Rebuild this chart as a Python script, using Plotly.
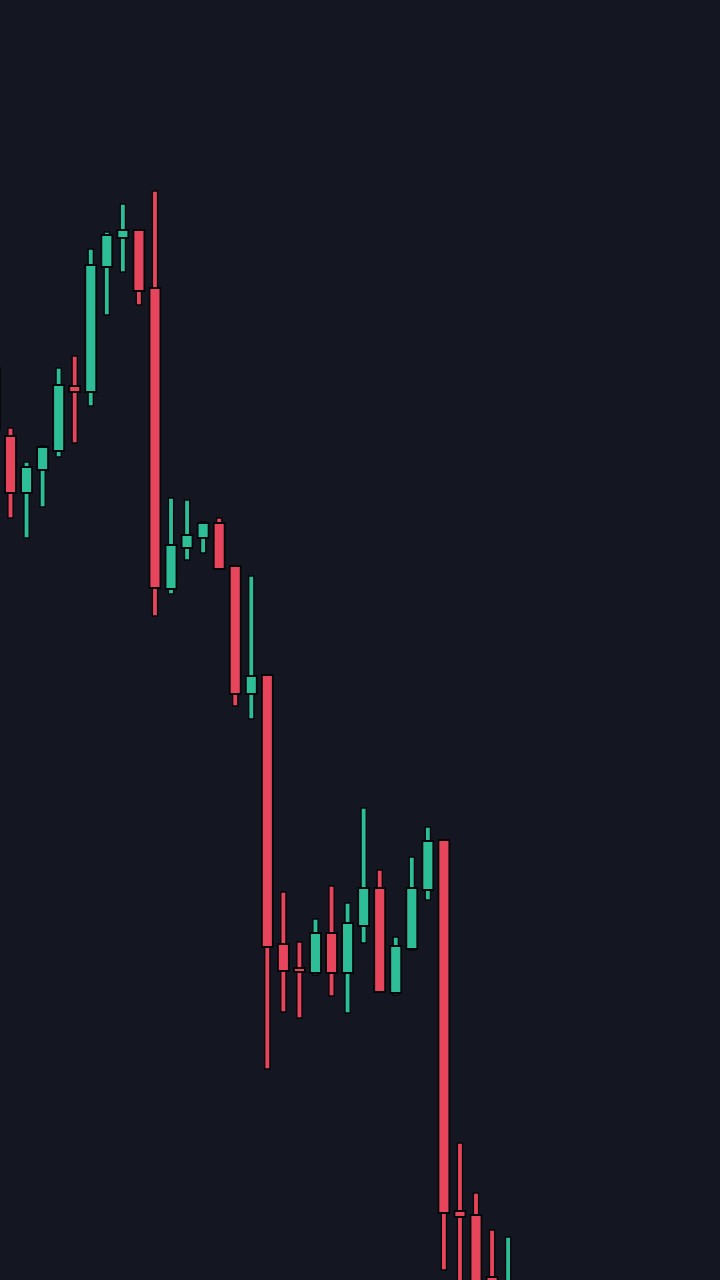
import plotly.graph_objects as go

# Candle data (price units)
idx = list(range(0, 33))
opens = [213.2, 206.4, 200.7, 203.0, 204.9, 211.4, 210.8, 223.3, 226.2, 227.0,
         221.2, 191.1, 195.2, 196.2, 197.7, 193.4, 180.6, 182.5, 155.6, 153.2,
         152.7, 156.7, 152.7, 157.4, 161.2, 150.7, 155.1, 161.0, 166.0, 128.9,
         128.5, 122.3, 117.0]
highs = [214.0, 207.2, 203.8, 205.4, 213.2, 214.4, 225.1, 226.8, 229.6, 227.0,
         230.9, 200.2, 200.0, 197.8, 198.2, 193.4, 192.4, 182.5, 160.8, 155.8,
         158.1, 161.4, 159.7, 169.2, 163.0, 156.3, 164.3, 167.3, 166.0, 135.7,
         130.7, 127.0, 126.3]
lows = [206.0, 198.2, 196.2, 199.3, 204.3, 205.7, 209.4, 218.5, 222.8, 219.5,
        188.4, 190.6, 194.0, 194.7, 193.1, 179.4, 178.1, 143.1, 148.8, 148.2,
        152.5, 150.4, 148.7, 155.7, 150.8, 150.5, 155.0, 160.0, 123.0, 120.0,
        117.0, 118.0, 115.5]
closes = [207.0, 200.7, 203.3, 205.3, 211.5, 210.8, 223.5, 226.5, 227.0, 220.9,
          191.2, 195.5, 196.5, 197.7, 193.1, 180.6, 182.4, 155.3, 152.9, 152.8,
          156.7, 152.7, 157.7, 161.2, 150.8, 155.4, 161.2, 165.9, 128.7, 128.3,
          120.0, 119.0, 121.0]

GREEN = "#2dbe98"
RED = "#e6455b"
BG = "#141722"
OUT = "#05060a"

colors = [GREEN if c >= o else RED for o, c in zip(opens, closes)]
body_base = [min(o, c) for o, c in zip(opens, closes)]
body_h = [max(abs(c - o), 0.35) for o, c in zip(opens, closes)]
wick_h = [h - l for h, l in zip(highs, lows)]

fig = go.Figure()
fig.add_trace(go.Bar(
    x=idx, y=wick_h, base=lows, width=0.32,
    marker=dict(color=colors, line=dict(color=OUT, width=1.3)),
    hoverinfo="skip", showlegend=False,
))
fig.add_trace(go.Bar(
    x=idx, y=body_h, base=body_base, width=0.68,
    marker=dict(color=colors, line=dict(color=OUT, width=1.8)),
    hoverinfo="skip", showlegend=False,
))

fig.update_layout(
    width=720, height=1280,
    margin=dict(l=0, r=0, t=0, b=0),
    paper_bgcolor=BG, plot_bgcolor=BG,
    barmode="overlay",
    xaxis=dict(range=[0.346, 45.2], visible=False, showgrid=False, zeroline=False),
    yaxis=dict(range=[122, 250], visible=False, showgrid=False, zeroline=False),
    showlegend=False,
)

fig.write_html("out.html", config={"displayModeBar": False, "staticPlot": True})

# remove the default page margin so the figure fills the window
with open("out.html", "r", encoding="utf-8") as f:
    html = f.read()
html = html.replace("<head>", "<head><style>html,body{margin:0;padding:0;background:%s;overflow:hidden}</style>" % BG, 1)
with open("out.html", "w", encoding="utf-8") as f:
    f.write(html)
